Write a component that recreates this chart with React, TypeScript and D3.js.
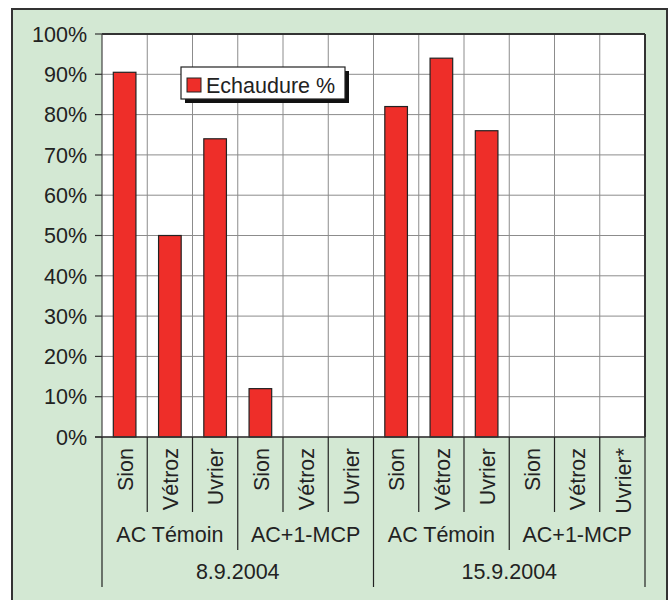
import React from "react";
import * as d3 from "d3";

const dates = ["8.9.2004", "15.9.2004"];
const treatments = ["AC Témoin", "AC+1-MCP"];
const sites = ["Sion", "Vétroz", "Uvrier"];
const lastSiteLabels = ["Uvrier", "Uvrier", "Uvrier", "Uvrier*"];
const values = [90.5, 50, 74, 12, 0, 0, 82, 94, 76, 0, 0, 0];
const yTicks = [0, 10, 20, 30, 40, 50, 60, 70, 80, 90, 100];
const legendLabel = "Echaudure %";

const W = 670, H = 600;
const left = 102, right = 645, top = 34, bottom = 437;
const font = "'Liberation Sans', Arial, Helvetica, sans-serif";
const RED = "#ee2e29";
const BG = "#d3e8d3";
const FS = 21.5;

type Cat = { key: string; label: string; value: number };
const cats: Cat[] = [];
dates.forEach((d, di) =>
  treatments.forEach((t, ti) =>
    sites.forEach((s, si) => {
      const idx = di * 6 + ti * 3 + si;
      const label = si === 2 ? lastSiteLabels[di * 2 + ti] : s;
      cats.push({ key: `${d}|${t}|${s}`, label, value: values[idx] });
    })
  )
);

export default function App() {
  const x = d3.scaleBand<string>().domain(cats.map((c) => c.key)).range([left, right]).paddingInner(0).paddingOuter(0);
  const y = d3.scaleLinear().domain([0, 100]).range([bottom, top]);
  const bw = x.bandwidth();
  const barW = bw * 0.5;
  const boundaries = d3.range(cats.length + 1).map((i) => left + i * bw);

  return (
    <svg width={W} height={H} style={{ position: "absolute", left: 0, top: 0 }} fontFamily={font}>
      <rect x={0} y={0} width={W} height={H} fill="#fff" />
      <rect x={12} y={9} width={655} height={H + 20} fill={BG} stroke="#333" strokeWidth={2} />
      <rect x={left} y={top} width={right - left} height={bottom - top} fill="#fff" />
      {/* gridlines */}
      {yTicks.map((t) => (
        <line key={"h" + t} x1={left} x2={right} y1={y(t)} y2={y(t)} stroke="#8c8c8c" strokeWidth={1} />
      ))}
      {boundaries.slice(1, -1).map((bx, i) => (
        <line key={"v" + i} x1={bx} x2={bx} y1={top} y2={bottom} stroke="#8c8c8c" strokeWidth={1} />
      ))}
      {/* bars */}
      {cats.map((c) =>
        c.value > 0 ? (
          <rect
            key={c.key}
            x={(x(c.key) as number) + (bw - barW) / 2}
            y={y(c.value)}
            width={barW}
            height={y(0) - y(c.value)}
            fill={RED}
            stroke="#222"
            strokeWidth={1.2}
          />
        ) : null
      )}
      {/* plot frame */}
      <line x1={left} x2={right} y1={top} y2={top} stroke="#333" strokeWidth={2} />
      <line x1={right} x2={right} y1={top} y2={bottom} stroke="#333" strokeWidth={2} />
      <line x1={left} x2={left} y1={top} y2={bottom} stroke="#444" strokeWidth={1.2} />
      <line x1={95} x2={right} y1={bottom} y2={bottom} stroke="#333" strokeWidth={1.5} />
      {/* y axis ticks and labels */}
      {yTicks.map((t) => (
        <g key={"yt" + t}>
          <line x1={95} x2={left} y1={y(t)} y2={y(t)} stroke="#333" strokeWidth={1.2} />
          <text x={87} y={y(t)} dy="0.36em" textAnchor="end" fontSize={FS} fill="#222">
            {t}%
          </text>
        </g>
      ))}
      {/* category separators */}
      {boundaries.map((bx, i) => {
        const len = i % 6 === 0 ? 587 : i % 3 === 0 ? 550 : 512;
        return <line key={"s" + i} x1={bx} x2={bx} y1={bottom} y2={len} stroke="#222" strokeWidth={1.2} />;
      })}
      {/* site labels */}
      {cats.map((c) => {
        const cx = (x(c.key) as number) + bw / 2;
        return (
          <text
            key={"l" + c.key}
            transform={`translate(${cx + 0.5},448) rotate(-90)`}
            dy="0.36em"
            textAnchor="end"
            fontSize={FS}
            fill="#222"
          >
            {c.label}
          </text>
        );
      })}
      {/* treatment labels */}
      {dates.map((d, di) =>
        treatments.map((t, ti) => {
          const cx = left + (di * 6 + ti * 3 + 1.5) * bw;
          return (
            <text key={d + t} x={cx} y={542} textAnchor="middle" fontSize={FS} fill="#222">
              {t}
            </text>
          );
        })
      )}
      {/* date labels */}
      {dates.map((d, di) => (
        <text key={d} x={left + (di * 6 + 3) * bw} y={579} textAnchor="middle" fontSize={FS} fill="#222">
          {d}
        </text>
      ))}
      {/* legend */}
      <rect x={185} y={71} width={164} height={32} fill="#111" />
      <rect x={181} y={67} width={164} height={32} fill="#fff" stroke="#222" strokeWidth={1.2} />
      <rect x={187} y={78} width={14} height={14} fill={RED} stroke="#222" strokeWidth={1} />
      <text x={206} y={85} dy="0.36em" fontSize={FS} fill="#222">
        {legendLabel}
      </text>
    </svg>
  );
}
